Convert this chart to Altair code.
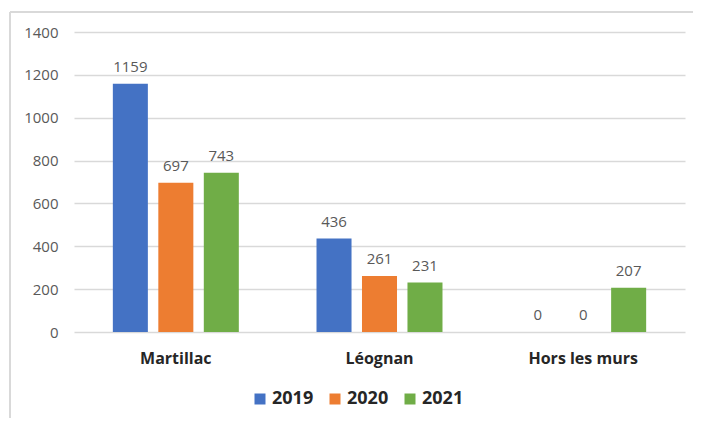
import altair as alt
import pandas as pd

sites = ["Martillac", "Léognan", "Hors les murs"]
years = ["2019", "2020", "2021"]
v2019 = [1159, 436, 0]
v2020 = [697, 261, 0]
v2021 = [743, 231, 207]
colors = ["#4472C4", "#ED7D31", "#70AD47"]

rows = []
for i, s in enumerate(sites):
    for y, vals in zip(years, [v2019, v2020, v2021]):
        rows.append({"site": s, "year": y, "value": vals[i]})
df = pd.DataFrame(rows)

W, H = 611, 300
FONT = "Open Sans"

x = alt.X("site:N", sort=sites, title=None,
          scale=alt.Scale(paddingInner=0, paddingOuter=0),
          axis=alt.Axis(labelAngle=0, labelFontWeight="bold", labelFontSize=16,
                        labelColor="#262626", labelFont=FONT, ticks=False,
                        domain=False, labelPadding=18))
xo = alt.XOffset("year:N", sort=years,
                 scale=alt.Scale(paddingInner=0.23, paddingOuter=0.854))
yenc = alt.Y("value:Q", title=None,
             scale=alt.Scale(domain=[0, 1400], nice=False),
             axis=alt.Axis(values=[0, 200, 400, 600, 800, 1000, 1200, 1400],
                           format="d",
                           labelFontSize=15, labelColor="#595959", labelFont=FONT,
                           ticks=False, domain=False, labelPadding=16,
                           gridColor="#d9d9d9", gridWidth=1.5))

bars = alt.Chart(df).mark_bar().encode(
    x=x, xOffset=xo, y=yenc,
    color=alt.Color("year:N", sort=years,
                    scale=alt.Scale(domain=years, range=colors),
                    legend=alt.Legend(title=None, orient="none", direction="horizontal",
                                      legendX=177, legendY=358, symbolType="square",
                                      symbolSize=121, symbolStrokeWidth=0,
                                      labelFontSize=18, labelFontWeight="bold",
                                      labelFont=FONT, labelColor="#262626",
                                      labelOffset=3, columnPadding=12)),
)

labels = alt.Chart(df).mark_text(baseline="alphabetic", dy=-12, fontSize=15,
                                 color="#595959", font=FONT).encode(
    x=x, xOffset=xo, y=yenc, text=alt.Text("value:Q"))

frame_top = alt.Chart(df).mark_rule(color="#d9d9d9", strokeWidth=1.5).encode(
    x=alt.value(-64), x2=alt.value(W + 8), y=alt.value(-20))
frame_left = alt.Chart(df).mark_rule(color="#d9d9d9", strokeWidth=1.5).encode(
    x=alt.value(-64), y=alt.value(-20), y2=alt.value(H + 90))

chart = alt.layer(frame_top, frame_left, bars, labels).properties(
    width=W, height=H,
    autosize=alt.AutoSizeParams(type="none"),
    padding={"left": 66, "top": 24, "right": 8, "bottom": 86},
    background="white",
).configure_view(stroke=None)

chart.save("out.html", embed_options={"renderer": "svg", "actions": False})
